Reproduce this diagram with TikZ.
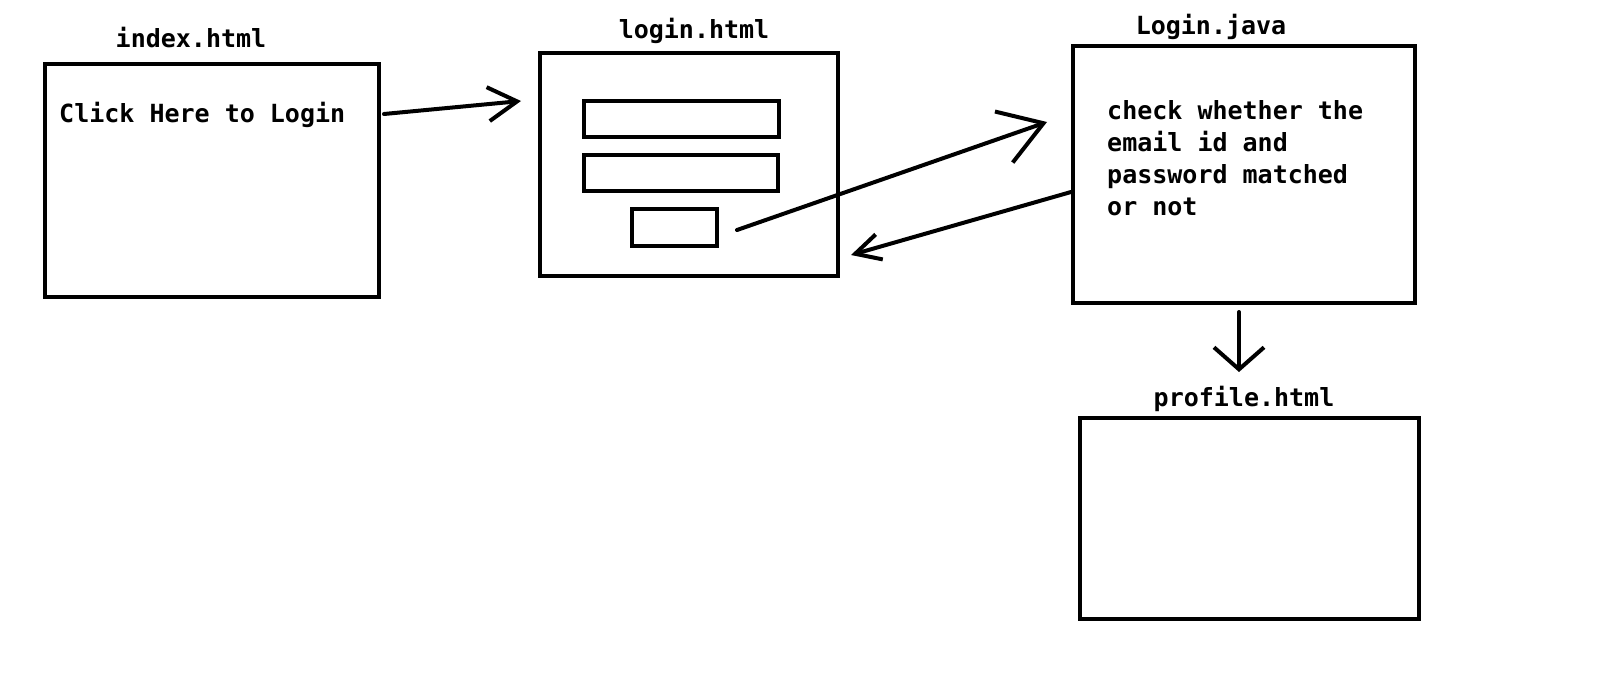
\documentclass[tikz,border=0pt]{standalone}
\usepackage{fontspec}
\newfontfamily\dmono{DejaVu Sans Mono}
\usetikzlibrary{arrows.meta,calc}
\begin{document}
\begin{tikzpicture}[x=1pt,y=-1pt,
  box/.style={draw=black, line width=4pt, rectangle, inner sep=0pt},
  txt/.style={inner sep=0pt, font=\dmono\bfseries\fontsize{25}{32}\selectfont, text=black},
  conn/.style={draw=black, line width=4pt, line cap=round, line join=round}]
\useasboundingbox[fill=white] (0,0) rectangle (1600,685);
% boxes
\node[box, minimum width=334pt, minimum height=233pt] (index) at (212,180.5) {};
\node[box, minimum width=298pt, minimum height=223pt] (login) at (689,164.5) {};
\node[box, minimum width=195pt, minimum height=36pt] (field1) at (681.5,119) {};
\node[box, minimum width=194pt, minimum height=36pt] (field2) at (681,173) {};
\node[box, minimum width=85pt, minimum height=37pt] (button) at (674.5,227.5) {};
\node[box, minimum width=342pt, minimum height=257pt] (java) at (1244,174.5) {};
\node[box, minimum width=339pt, minimum height=201pt] (profile) at (1249.5,518.5) {};
% labels
\node[txt, anchor=base] (indexlbl) at (191,48) {index.html};
\node[txt, anchor=base] (loginlbl) at (694,39) {login.html};
\node[txt, anchor=base] (javalbl) at (1211,35) {Login.java};
\node[txt, anchor=base] (profilelbl) at (1244,406) {profile.html};
\node[txt, anchor=base west] (click) at (59,122) {Click Here to Login};
\node[txt, anchor=base west] (check1) at (1107,119) {check whether the};
\node[txt, anchor=base west] (check2) at (1107,151) {email id and};
\node[txt, anchor=base west] (check3) at (1107,183) {password matched};
\node[txt, anchor=base west] (check4) at (1107,215) {or not};
% connector ends
\coordinate (a1s) at ($(index.north east)+(3,52)$);
\coordinate (a1e) at ($(login.north west)+(-17,50)$);
\coordinate (a2s) at ($(button.east)+(18,2.5)$);
\coordinate (a2e) at ($(java.north west)+(-24,78)$);
\coordinate (a3s) at ($(java.north west)+(0,148)$);
\coordinate (a3e) at ($(login.east)+(11,90.5)$);
\coordinate (a4s) at ($(java.south)+(-5,7)$);
\coordinate (a4e) at ($(java.south)+(-5,67)$);
% connectors
\draw[conn, -{Straight Barb[length=29pt,width=34pt]}] (a1s) -- (a1e);
\draw[conn, -{Straight Barb[length=42pt,width=54pt]}] (a2s) -- (a2e);
\draw[conn, -{Straight Barb[length=25pt,width=26pt]}] (a3s) -- (a3e);
\draw[conn, -{Straight Barb[length=22pt,width=50pt]}] (a4s) -- (a4e);
\end{tikzpicture}
\end{document}
